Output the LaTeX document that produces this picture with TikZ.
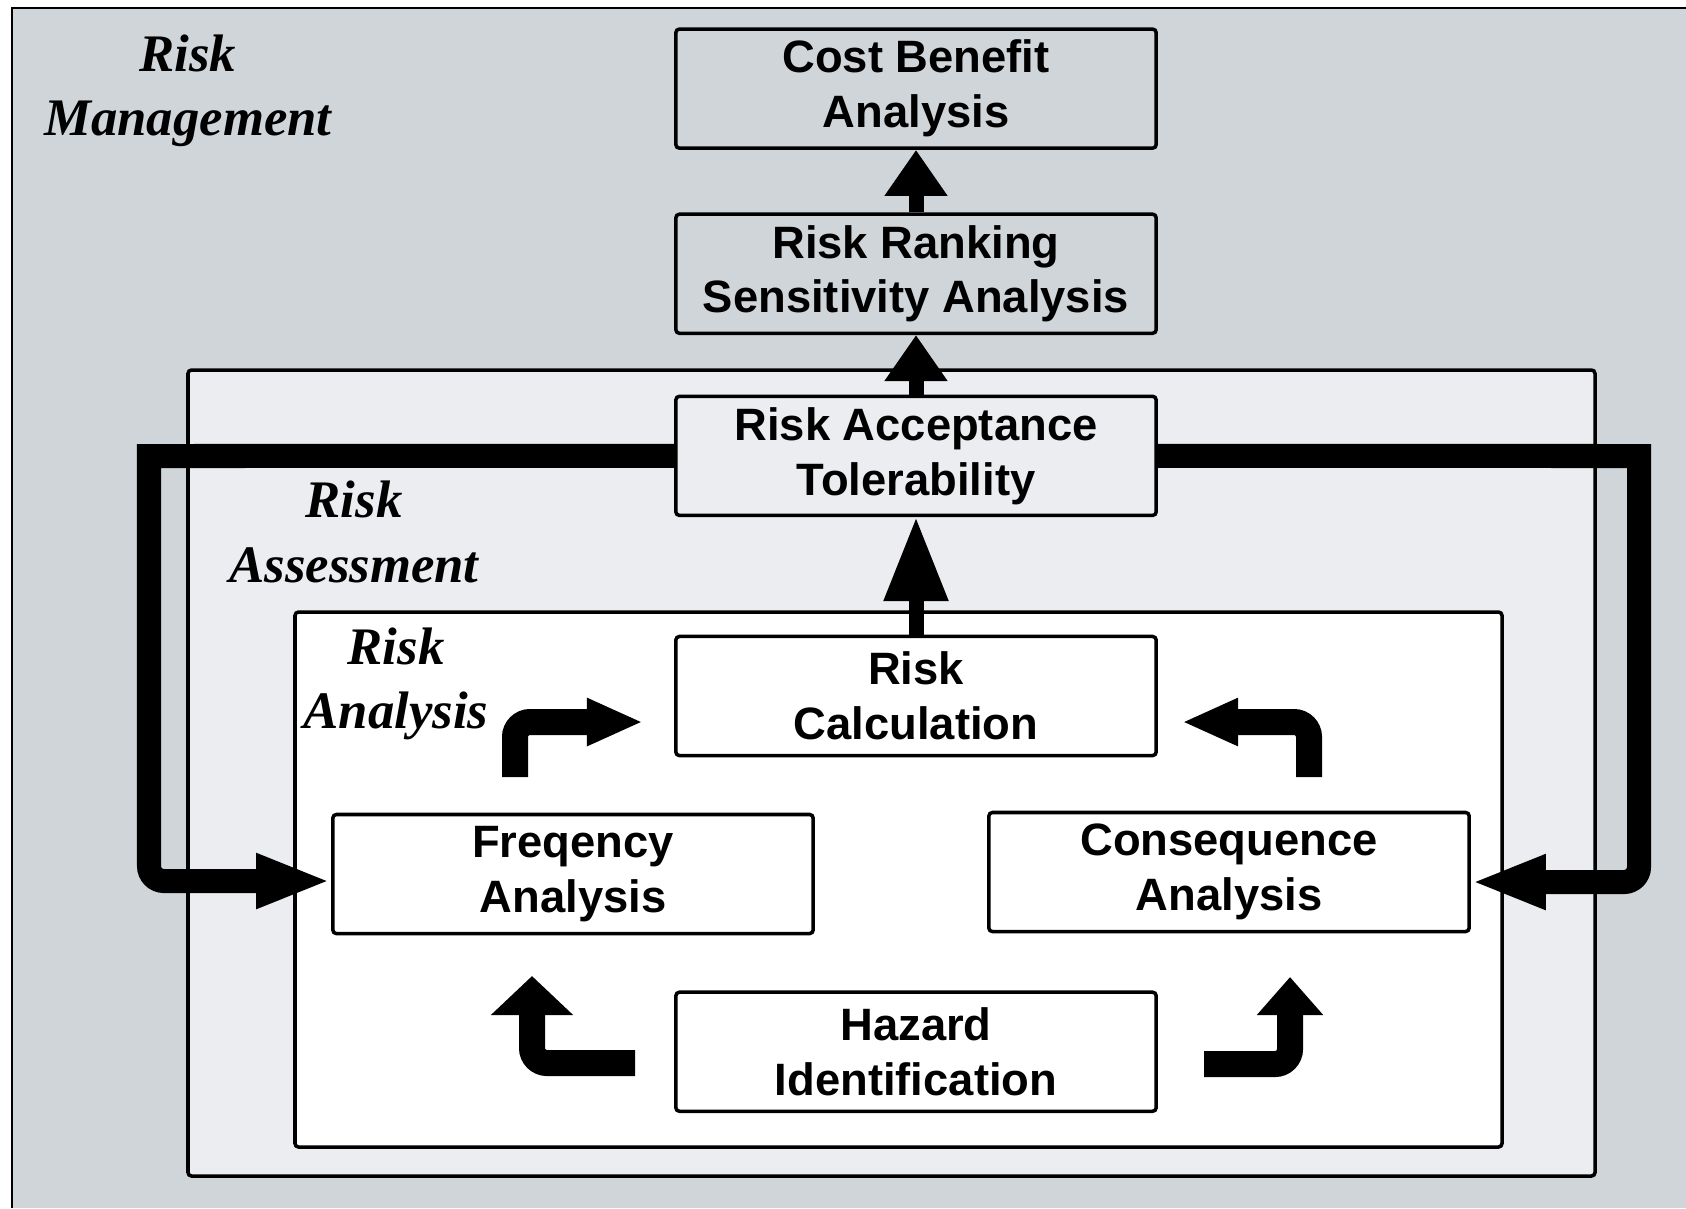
\documentclass[tikz,border=0pt]{standalone}
\usepackage{fontspec}
\setmainfont{Liberation Sans}
\newfontfamily\tierfont{Liberation Serif}
\usepackage{tikz}
\usetikzlibrary{arrows.meta, positioning}
\definecolor{mgmtgray}{RGB}{208,213,217}
\definecolor{assessgray}{RGB}{236,237,241}

\begin{document}
\begin{tikzpicture}[
    x=0.01cm, y=-0.01cm,
    box/.style={rectangle, draw, fill=white, line width=1pt, rounded corners=1pt, minimum width=4.8cm, minimum height=1.19cm, inner sep=0pt, align=center, font={\fontsize{12.9}{15.6}\selectfont\bfseries}},
    tier/.style={align=center, inner sep=0pt, font={\tierfont\fontsize{15}{18.3}\selectfont\bfseries\itshape}},
    zone/.style={draw, line width=1pt, rounded corners=1pt},
    uparrow/.style={-{Triangle[length=0.46cm, width=0.6cm]}, line width=0.15cm},
    feedback/.style={-{Triangle[length=0.75cm, width=0.5cm]}, line width=0.24cm},
    bent/.style={line width=0.26cm, rounded corners=0.15cm}
]
    \useasboundingbox (0,0) rectangle (1686,1208);
    \fill[white] (0,0) rectangle (1686,1208);

    % nested areas
    \fill[mgmtgray] (12,8) rectangle (1686,1208);
    \draw[line width=0.8pt] (1686,8) -- (12,8) -- (12,1208);
    \draw[zone, fill=assessgray] (188,370) rectangle (1595,1176);
    \draw[zone, fill=white] (295,612) rectangle (1502,1147);

    \node[tier] (mgmt) at (188,91) {Risk\\Management};
    \node[tier] (assess) at (354,532) {Risk\\Assessment};
    \node[tier] (analysis) at (396,684) {Risk\\Analysis};

    % steps
    \node[box] (calc) at (916,696) {Risk\\Calculation};
    \node[box, fill=assessgray, above=1.175cm of calc] (accept) {Risk Acceptance\\Tolerability};
    \node[box, fill=mgmtgray, above=0.595cm of accept] (rank) {Risk Ranking\\Sensitivity Analysis};
    \node[box, fill=mgmtgray, above=0.625cm of rank] (cost) {Cost Benefit\\Analysis};
    \node[box, below=2.33cm of calc] (hazard) {Hazard\\Identification};
    \node[box] (freq) at (573,874) {Freqency\\Analysis};
    \node[box] (cons) at (1229,872) {Consequence\\Analysis};

    \draw[uparrow, -{Triangle[length=0.84cm, width=0.61cm]}] (calc) -- (accept);
    \draw[uparrow] (accept) -- (rank);
    \draw[uparrow] (rank) -- (cost);

    % feedback from acceptance
    \coordinate (fbleft) at (149,456);
    \coordinate (fbright) at (1639,456);
    \coordinate (freqin) at ([yshift=-0.07cm]freq.west);
    \coordinate (consin) at ([yshift=-0.1cm]cons.east);
    \draw[feedback] (accept.west) -- (fbleft) [rounded corners=0.15cm] -- (fbleft |- freqin) -- (freqin);
    \draw[feedback] (accept.east) -- (fbright) [rounded corners=0.15cm] -- (fbright |- consin) -- (consin);

    % bent arrows inside the analysis
    \coordinate (freqout) at (515,777);
    \coordinate (calcinl) at (643,722);
    \coordinate (consout) at (1309,777);
    \coordinate (calcinr) at (1182,722);
    \coordinate (hazoutl) at (635,1063);
    \coordinate (freqinb) at (532,976);
    \coordinate (hazoutr) at (1204,1064);
    \coordinate (consinb) at (1290,977);
    \draw[bent, -{Triangle[length=0.56cm, width=0.44cm]}] (freqout) |- (calcinl);
    \draw[bent, -{Triangle[length=0.56cm, width=0.44cm]}] (consout) |- (calcinr);
    \draw[bent, -{Triangle[length=0.39cm, width=0.8cm]}] (hazoutl) -| (freqinb);
    \draw[bent, -{Triangle[length=0.38cm, width=0.64cm]}] (hazoutr) -| (consinb);
\end{tikzpicture}
\end{document}
